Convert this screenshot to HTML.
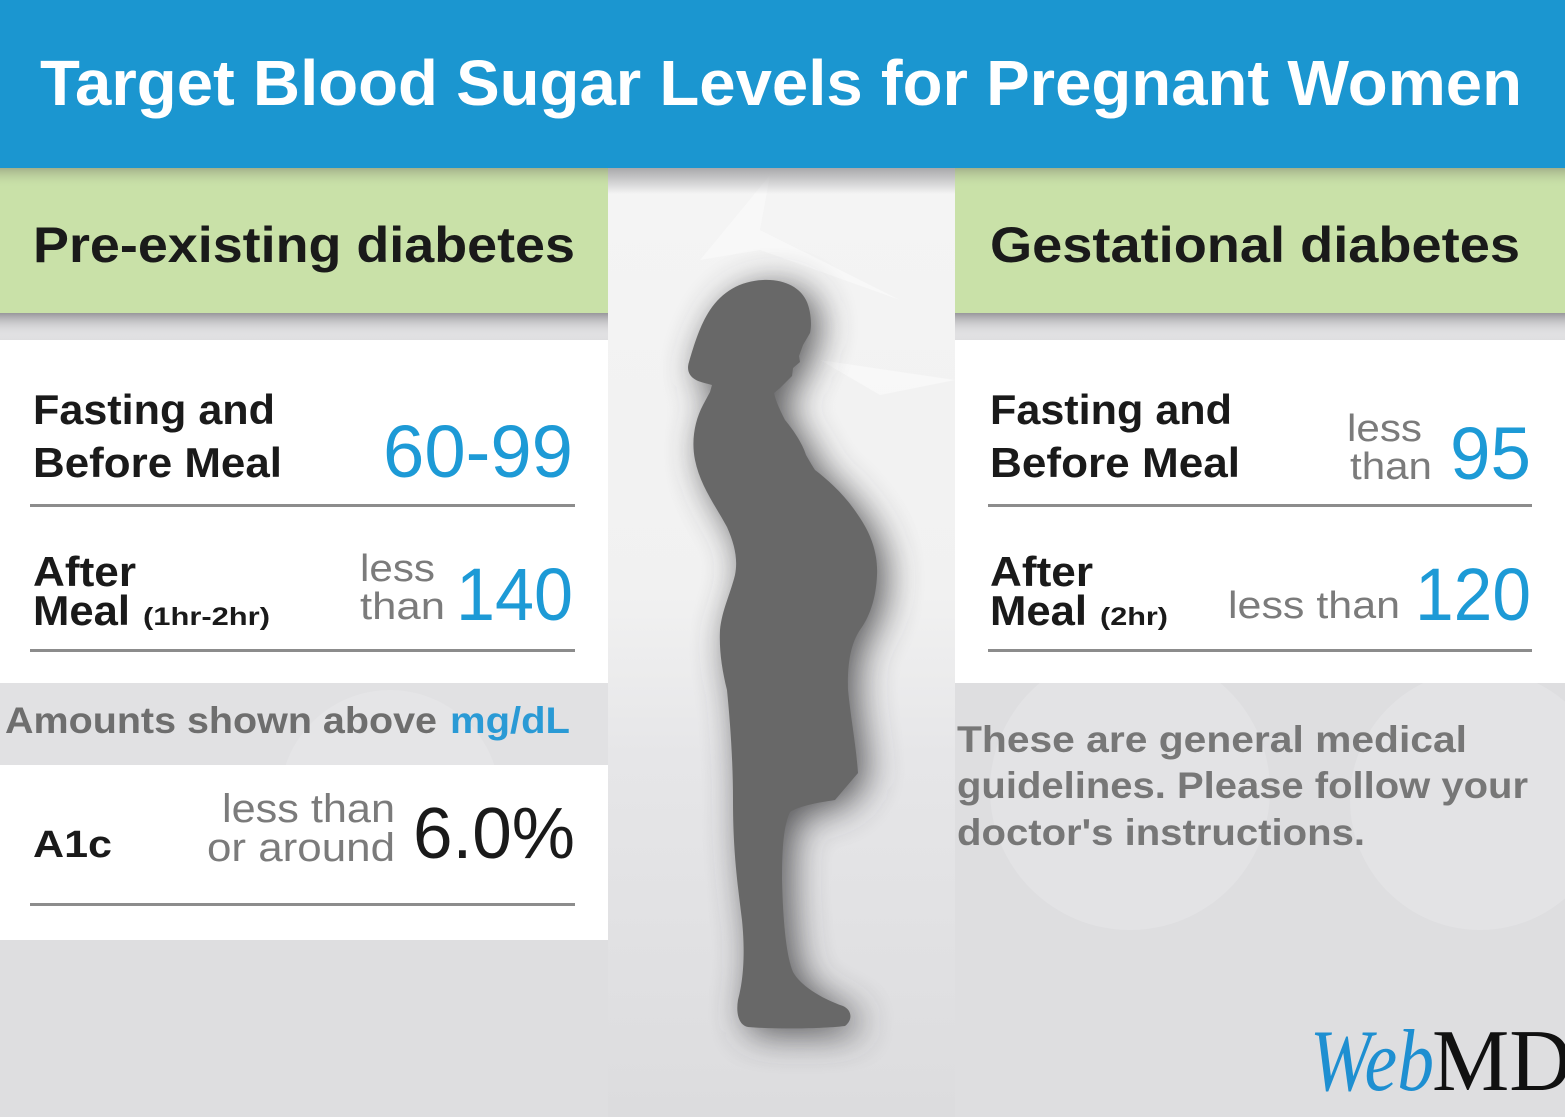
<!DOCTYPE html>
<html>
<head>
<meta charset="utf-8">
<style>
  html,body{margin:0;padding:0;background:#dedee0;}
  svg{display:block;}
  .b{font-family:"Liberation Sans",Arial,sans-serif;font-weight:bold;}
  .r{font-family:"Liberation Sans",Arial,sans-serif;font-weight:normal;}
</style>
</head>
<body>
<svg width="1565" height="1117" viewBox="0 0 1565 1117" xmlns="http://www.w3.org/2000/svg">
  <defs>
    <linearGradient id="mid" x1="0" y1="0" x2="0" y2="1">
      <stop offset="0" stop-color="#f4f4f4"/>
      <stop offset="0.45" stop-color="#f1f1f1"/>
      <stop offset="0.62" stop-color="#e6e6e8"/>
      <stop offset="1" stop-color="#dcdcde"/>
    </linearGradient>
    <linearGradient id="hdrsh" x1="0" y1="0" x2="0" y2="1">
      <stop offset="0" stop-color="#a9a9ab"/>
      <stop offset="1" stop-color="#a9a9ab" stop-opacity="0"/>
    </linearGradient>
    <linearGradient id="grsh" x1="0" y1="0" x2="0" y2="1">
      <stop offset="0" stop-color="#98979b"/>
      <stop offset="1" stop-color="#ffffff" stop-opacity="0"/>
    </linearGradient>
    <linearGradient id="grtop" x1="0" y1="0" x2="0" y2="1">
      <stop offset="0" stop-color="#a3b08a"/>
      <stop offset="1" stop-color="#c9e1a8" stop-opacity="0"/>
    </linearGradient>
    <filter id="blur" x="-50%" y="-20%" width="200%" height="140%">
      <feGaussianBlur stdDeviation="18"/>
    </filter>
  </defs>

  <!-- background -->
  <rect x="0" y="0" width="1565" height="1117" fill="#dedee0"/>
  <circle cx="420" cy="790" r="120" fill="#e4e4e6"/>
  <circle cx="1130" cy="790" r="140" fill="#e3e3e5"/>
  <circle cx="1480" cy="800" r="130" fill="#e3e3e5"/>
  <rect x="0" y="683" width="608" height="82" fill="#e1e1e3"/>
  <circle cx="390" cy="800" r="110" fill="#e5e5e7"/>
  <!-- middle column -->
  <rect x="608" y="168" width="347" height="949" fill="url(#mid)"/>
  <polygon points="700,260 770,175 760,230 900,300 760,250" fill="#fafafa" opacity="0.7"/>
  <polygon points="820,360 955,380 880,395" fill="#fafafa" opacity="0.7"/>
  <rect x="608" y="168" width="347" height="26" fill="url(#hdrsh)"/>

  <!-- header -->
  <rect x="0" y="0" width="1565" height="168" fill="#1b96d0"/>
  <text x="40" y="105" class="b" font-size="64" fill="#ffffff" textLength="1482" lengthAdjust="spacingAndGlyphs">Target Blood Sugar Levels for Pregnant Women</text>

  <!-- left green -->
  <rect x="0" y="168" width="608" height="145" fill="#c9e1a8"/>
  <rect x="0" y="168" width="608" height="20" fill="url(#grtop)"/>
  <rect x="0" y="313" width="608" height="27" fill="url(#grsh)"/>
  <text x="33" y="262" class="b" font-size="50" fill="#1a1a1a" textLength="542" lengthAdjust="spacingAndGlyphs">Pre-existing diabetes</text>

  <!-- right green -->
  <rect x="955" y="168" width="610" height="145" fill="#c9e1a8"/>
  <rect x="955" y="168" width="610" height="20" fill="url(#grtop)"/>
  <rect x="955" y="313" width="610" height="27" fill="url(#grsh)"/>
  <text x="990" y="262" class="b" font-size="50" fill="#1a1a1a" textLength="530" lengthAdjust="spacingAndGlyphs">Gestational diabetes</text>

  <!-- left white panel -->
  <rect x="0" y="340" width="608" height="343" fill="#ffffff"/>
  <text x="33" y="424" class="b" font-size="42" fill="#1a1a1a" textLength="242" lengthAdjust="spacingAndGlyphs">Fasting and</text>
  <text x="33" y="477" class="b" font-size="42" fill="#1a1a1a" textLength="249" lengthAdjust="spacingAndGlyphs">Before Meal</text>
  <text x="383" y="477" class="r" font-size="74" fill="#1d9ad6" textLength="190" lengthAdjust="spacingAndGlyphs">60-99</text>
  <rect x="30" y="504" width="545" height="3" fill="#8c8c8c"/>
  <text x="33" y="586" class="b" font-size="42" fill="#1a1a1a" textLength="103" lengthAdjust="spacingAndGlyphs">After</text>
  <text x="33" y="625" class="b" font-size="42" fill="#1a1a1a" textLength="97" lengthAdjust="spacingAndGlyphs">Meal</text>
  <text x="143" y="625" class="b" font-size="25" fill="#1a1a1a" textLength="127" lengthAdjust="spacingAndGlyphs">(1hr-2hr)</text>
  <text x="360" y="581" class="r" font-size="38" fill="#7b7b7b" textLength="75" lengthAdjust="spacingAndGlyphs">less</text>
  <text x="360" y="619" class="r" font-size="38" fill="#7b7b7b" textLength="85" lengthAdjust="spacingAndGlyphs">than</text>
  <text x="456" y="620" class="r" font-size="74" fill="#1d9ad6" textLength="117" lengthAdjust="spacingAndGlyphs">140</text>
  <rect x="30" y="649" width="545" height="3" fill="#8c8c8c"/>

  <!-- amounts -->
  <text x="5" y="733" class="b" font-size="37" fill="#6e6e6e" textLength="432" lengthAdjust="spacingAndGlyphs">Amounts shown above</text>
  <text x="450" y="733" class="b" font-size="37" fill="#2a9ad5" textLength="120" lengthAdjust="spacingAndGlyphs">mg/dL</text>

  <!-- A1c panel -->
  <rect x="0" y="765" width="608" height="175" fill="#ffffff"/>
  <text x="33" y="857" class="b" font-size="38" fill="#1a1a1a" textLength="79" lengthAdjust="spacingAndGlyphs">A1c</text>
  <text x="222" y="822" class="r" font-size="40" fill="#7b7b7b" textLength="173" lengthAdjust="spacingAndGlyphs">less than</text>
  <text x="207" y="861" class="r" font-size="40" fill="#7b7b7b" textLength="188" lengthAdjust="spacingAndGlyphs">or around</text>
  <text x="413" y="858" class="r" font-size="72" fill="#1a1a1a" textLength="162" lengthAdjust="spacingAndGlyphs">6.0%</text>
  <rect x="30" y="903" width="545" height="3" fill="#8c8c8c"/>

  <!-- right white panel -->
  <rect x="955" y="340" width="610" height="343" fill="#ffffff"/>
  <text x="990" y="424" class="b" font-size="42" fill="#1a1a1a" textLength="242" lengthAdjust="spacingAndGlyphs">Fasting and</text>
  <text x="990" y="477" class="b" font-size="42" fill="#1a1a1a" textLength="250" lengthAdjust="spacingAndGlyphs">Before Meal</text>
  <text x="1347" y="441" class="r" font-size="38" fill="#7b7b7b" textLength="75" lengthAdjust="spacingAndGlyphs">less</text>
  <text x="1350" y="479" class="r" font-size="38" fill="#7b7b7b" textLength="82" lengthAdjust="spacingAndGlyphs">than</text>
  <text x="1450" y="479" class="r" font-size="74" fill="#1d9ad6" textLength="81" lengthAdjust="spacingAndGlyphs">95</text>
  <rect x="988" y="504" width="544" height="3" fill="#8c8c8c"/>
  <text x="990" y="586" class="b" font-size="42" fill="#1a1a1a" textLength="103" lengthAdjust="spacingAndGlyphs">After</text>
  <text x="990" y="625" class="b" font-size="42" fill="#1a1a1a" textLength="97" lengthAdjust="spacingAndGlyphs">Meal</text>
  <text x="1100" y="625" class="b" font-size="25" fill="#1a1a1a" textLength="68" lengthAdjust="spacingAndGlyphs">(2hr)</text>
  <text x="1228" y="618" class="r" font-size="38" fill="#7b7b7b" textLength="172" lengthAdjust="spacingAndGlyphs">less than</text>
  <text x="1415" y="620" class="r" font-size="74" fill="#1d9ad6" textLength="116" lengthAdjust="spacingAndGlyphs">120</text>
  <rect x="988" y="649" width="544" height="3" fill="#8c8c8c"/>

  <!-- disclaimer -->
  <text x="957" y="752" class="b" font-size="37" fill="#777777" textLength="510" lengthAdjust="spacingAndGlyphs">These are general medical</text>
  <text x="957" y="798" class="b" font-size="37" fill="#777777" textLength="571" lengthAdjust="spacingAndGlyphs">guidelines. Please follow your</text>
  <text x="957" y="845" class="b" font-size="37" fill="#777777" textLength="408" lengthAdjust="spacingAndGlyphs">doctor's instructions.</text>

  <!-- WebMD logo -->
  <text x="1310" y="1090" font-family="'Liberation Serif',serif" font-style="italic" font-size="88" fill="#1e8fd1" textLength="124" lengthAdjust="spacingAndGlyphs">Web</text>
  <text x="1432" y="1090" font-family="'Liberation Serif',serif" font-size="88" fill="#111111" textLength="140" lengthAdjust="spacingAndGlyphs">MD</text>

  <!-- silhouette -->
  <g>
    <path transform="translate(9,6)" filter="url(#blur)" fill="#3e3e40" opacity="0.85" d="M 763 280 C 785 279, 800 288, 806 300 C 811 310, 812 325, 810 333 L 803 345 L 799 356 L 800 362 L 793 368 L 792 376 L 786 382 L 780 388 L 774 393 C 776 402, 780 410, 785 420 C 795 432, 803 445, 806 455 C 810 462, 813 467, 815 470 C 828 480, 845 495, 858 515 C 872 535, 878 555, 877 575 C 876 598, 870 615, 862 627 C 852 640, 847 660, 848 690 C 851 720, 856 745, 858 773 L 835 800 C 815 803, 800 806, 790 812 C 784 825, 782 845, 782 880 C 783 920, 786 955, 793 972 C 800 985, 820 998, 843 1006 C 852 1010, 853 1020, 845 1026 C 820 1029, 770 1029, 748 1027 C 738 1025, 736 1012, 738 1000 C 742 985, 746 960, 742 920 C 737 880, 733 850, 733 800 C 733 760, 730 720, 727 690 C 722 670, 719 650, 720 630 C 722 610, 730 595, 735 575 C 738 560, 735 545, 727 527 C 715 505, 700 485, 695 460 C 691 440, 695 420, 703 405 L 710 392 L 712 385 C 705 383, 698 382, 693 378 C 688 374, 687 368, 689 362 C 694 345, 700 325, 710 310 C 722 292, 740 281, 763 280 Z"/>
    <path fill="#686868" d="M 763 280 C 785 279, 800 288, 806 300 C 811 310, 812 325, 810 333 L 803 345 L 799 356 L 800 362 L 793 368 L 792 376 L 786 382 L 780 388 L 774 393 C 776 402, 780 410, 785 420 C 795 432, 803 445, 806 455 C 810 462, 813 467, 815 470 C 828 480, 845 495, 858 515 C 872 535, 878 555, 877 575 C 876 598, 870 615, 862 627 C 852 640, 847 660, 848 690 C 851 720, 856 745, 858 773 L 835 800 C 815 803, 800 806, 790 812 C 784 825, 782 845, 782 880 C 783 920, 786 955, 793 972 C 800 985, 820 998, 843 1006 C 852 1010, 853 1020, 845 1026 C 820 1029, 770 1029, 748 1027 C 738 1025, 736 1012, 738 1000 C 742 985, 746 960, 742 920 C 737 880, 733 850, 733 800 C 733 760, 730 720, 727 690 C 722 670, 719 650, 720 630 C 722 610, 730 595, 735 575 C 738 560, 735 545, 727 527 C 715 505, 700 485, 695 460 C 691 440, 695 420, 703 405 L 710 392 L 712 385 C 705 383, 698 382, 693 378 C 688 374, 687 368, 689 362 C 694 345, 700 325, 710 310 C 722 292, 740 281, 763 280 Z"/>
  </g>
</svg>
</body>
</html>
